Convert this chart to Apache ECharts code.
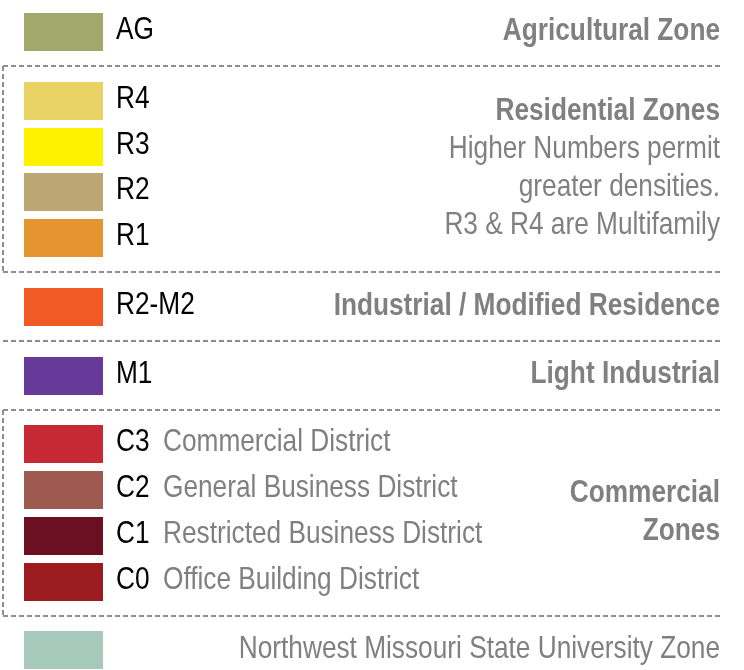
<!DOCTYPE html>
<html>
<head>
<meta charset="utf-8">
<script src="https://cdn.jsdelivr.net/npm/echarts@6/dist/echarts.min.js"></script>
<style>
html, body { margin: 0; padding: 0; background: #fff; }
#main { width: 744px; height: 670px; }
</style>
</head>
<body>
<div id="main"></div>
<script>
// zone rows, top to bottom
var zoneCodes = ['AG', 'R4', 'R3', 'R2', 'R1', 'R2-M2', 'M1', 'C3', 'C2', 'C1', 'C0', '']
var zoneColors = ['#a2a86a', '#e8d263', '#fff200', '#bca671', '#e4952f', '#f15a24', '#673a99', '#c62834', '#9e5a4e', '#6a1020', '#9c1b20', '#a6c9bc']
var zoneNames = ['', '', '', '', '', '', '', 'Commercial District', 'General Business District', 'Restricted Business District', 'Office Building District', '']
var zoneGroup = [0, 1, 1, 1, 1, 2, 3, 4, 4, 4, 4, 5]

// one entry per group
var groupTitles = [['Agricultural Zone'], ['Residential Zones'], ['Industrial / Modified Residence'], ['Light Industrial'], ['Commercial', 'Zones'], []]
var groupNotes = [[], ['Higher Numbers permit', 'greater densities.', 'R3 & R4 are Multifamily'], [], [], [], ['Northwest Missouri State University Zone']]

// no narrow font installed, so squeeze Liberation Sans sideways
var FONT = '"Liberation Sans", Arial, sans-serif'
var NARROW = 0.82
var GREY = '#808080'

// row slot: one unit per row, half a unit extra between groups
var slots = zoneCodes.map(function (c, i) { return i + 0.5 * zoneGroup[i] })

var groupCount = groupTitles.length
var groupFirst = []
var groupLast = []
zoneGroup.forEach(function (g, i) {
  if (groupFirst[g] === undefined) groupFirst[g] = slots[i]
  groupLast[g] = slots[i]
})

// dashed frame segments between groups, in data units
var frameSegs = []
var bounds = []
for (var g = 0; g < groupCount - 1; g++) {
  bounds.push((groupLast[g] + groupFirst[g + 1]) / 2)
}
bounds.forEach(function (b) { frameSegs.push([3, b, 722, b]) })
for (var g2 = 1; g2 < groupCount - 1; g2++) {
  if (groupLast[g2] > groupFirst[g2]) frameSegs.push([3, bounds[g2 - 1], 3, bounds[g2]])
}

function label(x, y, text, color, bold, align) {
  return {
    type: 'text',
    x: x,
    y: y,
    scaleX: NARROW,
    style: {
      text: text,
      fill: color,
      font: (bold ? 'bold ' : '') + '32px ' + FONT,
      align: align,
      verticalAlign: 'middle'
    }
  }
}

var myChart = echarts.init(document.getElementById('main'))

var option = {
  animation: false,
  grid: { left: 0, right: 0, top: 0, bottom: 0 },
  xAxis: { type: 'value', min: 0, max: 744, show: false },
  yAxis: { type: 'value', min: -0.7, max: 13.93, inverse: true, show: false },
  series: [
    {
      type: 'custom',
      silent: true,
      data: frameSegs,
      renderItem: function (params, api) {
        var a = api.coord([api.value(0), api.value(1)])
        var b = api.coord([api.value(2), api.value(3)])
        return {
          type: 'line',
          shape: { x1: Math.round(a[0]), y1: Math.round(a[1]), x2: Math.round(b[0]), y2: Math.round(b[1]) },
          style: { stroke: '#8e8e8e', lineWidth: 2, lineDash: [5, 3], fill: null }
        }
      }
    },
    {
      type: 'custom',
      silent: true,
      data: zoneCodes.map(function (c, i) { return [0, slots[i], i] }),
      renderItem: function (params, api) {
        var i = api.value(2)
        var y = Math.round(api.coord([0, api.value(1)])[1])
        var kids = [{
          type: 'rect',
          shape: { x: 24, y: y - 19, width: 79, height: 38 },
          style: { fill: zoneColors[i] }
        }]
        if (zoneCodes[i]) kids.push(label(116, y - 2, zoneCodes[i], '#000', false, 'left'))
        if (zoneNames[i]) kids.push(label(163, y - 2, zoneNames[i], GREY, false, 'left'))
        return { type: 'group', children: kids }
      }
    },
    {
      type: 'custom',
      silent: true,
      data: groupTitles.map(function (t, g) { return [0, (groupFirst[g] + groupLast[g]) / 2, g] }),
      renderItem: function (params, api) {
        var g = api.value(2)
        var cy = api.coord([0, api.value(1)])[1]
        var lines = groupTitles[g].map(function (t) { return { t: t, bold: true } })
          .concat(groupNotes[g].map(function (t) { return { t: t, bold: false } }))
        var lh = 38
        var kids = lines.map(function (ln, k) {
          return label(720, cy - 1 + (k - (lines.length - 1) / 2) * lh, ln.t, GREY, ln.bold, 'right')
        })
        return { type: 'group', children: kids }
      }
    }
  ]
}

option && myChart.setOption(option)
</script>
</body>
</html>
